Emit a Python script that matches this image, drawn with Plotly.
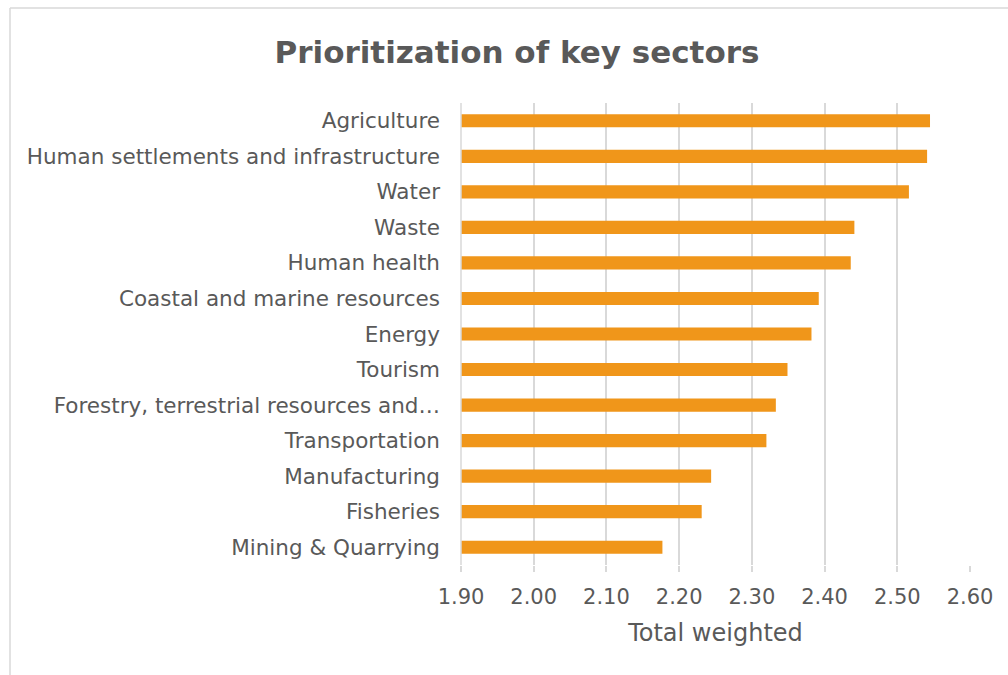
import plotly.graph_objects as go

sectors = [
    "Agriculture",
    "Human settlements and infrastructure",
    "Water",
    "Waste",
    "Human health",
    "Coastal and marine resources",
    "Energy",
    "Tourism",
    "Forestry, terrestrial resources and…",
    "Transportation",
    "Manufacturing",
    "Fisheries",
    "Mining & Quarrying",
]
scores = [2.545, 2.541, 2.516, 2.441, 2.436, 2.392, 2.382, 2.349, 2.333, 2.320, 2.244, 2.231, 2.177]
x_ticks = [1.90, 2.00, 2.10, 2.20, 2.30, 2.40, 2.50, 2.60]

base = 1.90
FONT = "DejaVu Sans"
GRAY = "#595959"

fig = go.Figure(
    go.Bar(
        y=sectors,
        x=[s - base for s in scores],
        base=base,
        orientation="h",
        marker=dict(color="#F0961A", line=dict(width=0)),
        hoverinfo="skip",
    )
)

fig.update_layout(
    width=1008,
    height=675,
    margin=dict(l=461, r=38, t=103, b=110),
    paper_bgcolor="white",
    plot_bgcolor="white",
    bargap=0.63,
    showlegend=False,
    font=dict(family=FONT, color=GRAY, size=20),
    title=dict(
        text="<b>Prioritization of key sectors</b>",
        x=517 / 1008,
        xanchor="center",
        xref="container",
        y=1 - 52 / 675,
        yanchor="middle",
        yref="container",
        font=dict(family=FONT, size=31, color=GRAY),
    ),
    xaxis=dict(
        range=[1.90, 2.60],
        tickvals=x_ticks,
        ticktext=[f"{v:.2f}" for v in x_ticks],
        showgrid=True,
        gridcolor="#D9D9D9",
        gridwidth=1.5,
        zeroline=False,
        showline=False,
        ticks="outside",
        ticklen=6,
        tickcolor="#D9D9D9",
        tickwidth=1.5,
        ticklabelstandoff=7,
        tickfont=dict(size=21, color=GRAY),
        title=dict(text="Total weighted", font=dict(size=24, color=GRAY), standoff=15),
    ),
    yaxis=dict(
        categoryorder="array",
        categoryarray=sectors[::-1],
        showgrid=False,
        zeroline=False,
        showline=False,
        ticks="",
        ticklabelstandoff=20,
        tickfont=dict(size=21.5, color=GRAY),
    ),
    shapes=[
        dict(
            type="line", xref="paper", yref="paper",
            x0=(10 - 461) / 509, x1=(10 - 461) / 509,
            y0=-(675 - 565) / 462, y1=(565 - 8) / 462,
            line=dict(color="#D9D9D9", width=1.5),
        ),
        dict(
            type="line", xref="paper", yref="paper",
            x0=(10 - 461) / 509, x1=(1008 - 461) / 509,
            y0=(565 - 8) / 462, y1=(565 - 8) / 462,
            line=dict(color="#D9D9D9", width=1.5),
        ),
        dict(
            type="line", xref="paper", yref="paper",
            x0=0, x1=0, y0=0, y1=1,
            line=dict(color="#D9D9D9", width=1.5),
        ),
    ],
)

fig.write_html("out.html")
